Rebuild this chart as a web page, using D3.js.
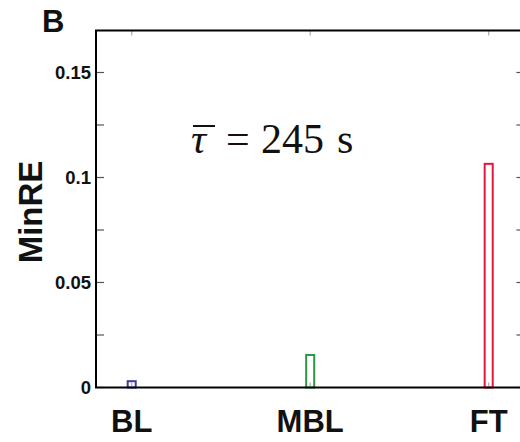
<!DOCTYPE html>
<html>
<head>
<meta charset="utf-8">
<script src="https://cdn.jsdelivr.net/npm/d3@7"></script>
<style>
  html, body { margin: 0; padding: 0; background: #fff; }
  svg { display: block; }
</style>
</head>
<body>
<svg id="chart" width="520" height="442"></svg>
<script>
const categories = ["BL", "MBL", "FT"];
const values = [0.003, 0.0155, 0.1065];
const colors = ["#3d3d9e", "#2e9446", "#e2183f"];
const yTickLabels = [0, 0.05, 0.1, 0.15];
const yMinorTicks = [0.025, 0.075, 0.125];

(function () {
const svg = d3.select("#chart");
const plotLeft = 96, plotTop = 30.5, plotBottom = 387.5;

const x = d3.scaleLinear().domain([0.8, 3.2]).range([plotLeft, plotLeft + 2.4 * 178.5]);
const y = d3.scaleLinear().domain([0, 0.17]).range([plotBottom, plotTop]);
const plotRight = x(3.2);

const barW = x(0.8 + 0.045) - x(0.8);

// bars
svg.append("g").selectAll("rect").data(values).join("rect")
  .attr("x", (d, i) => x(i + 1) - barW / 2)
  .attr("y", d => y(d))
  .attr("width", barW)
  .attr("height", d => y(0) - y(d))
  .attr("fill", "none")
  .attr("stroke", (d, i) => colors[i])
  .attr("stroke-width", 2);

// ticks (inward)
const tickLen = 8;
const allY = yTickLabels.concat(yMinorTicks);
const tg = svg.append("g").attr("stroke", "#555").attr("stroke-width", 1.2);
tg.append("g").selectAll("line").data(allY).join("line")
  .attr("x1", plotLeft).attr("x2", plotLeft + tickLen)
  .attr("y1", d => y(d)).attr("y2", d => y(d));
tg.append("g").selectAll("line").data(allY).join("line")
  .attr("x1", plotRight).attr("x2", plotRight - tickLen)
  .attr("y1", d => y(d)).attr("y2", d => y(d));
tg.append("g").selectAll("line").data(categories).join("line")
  .attr("x1", (d, i) => x(i + 1)).attr("x2", (d, i) => x(i + 1))
  .attr("y1", plotBottom).attr("y2", plotBottom - 5)
  .attr("stroke", "#aaa");
tg.append("g").selectAll("line").data(categories).join("line")
  .attr("x1", (d, i) => x(i + 1)).attr("x2", (d, i) => x(i + 1))
  .attr("y1", plotTop).attr("y2", plotTop + 5)
  .attr("stroke", "#aaa");

// box
svg.append("rect")
  .attr("x", plotLeft).attr("y", plotTop)
  .attr("width", plotRight - plotLeft).attr("height", plotBottom - plotTop)
  .attr("fill", "none").attr("stroke", "#000").attr("stroke-width", 2);

// y tick labels
svg.append("g").selectAll("text").data(yTickLabels).join("text")
  .attr("x", plotLeft - 5)
  .attr("y", d => y(d))
  .attr("dy", "0.36em")
  .attr("text-anchor", "end")
  .attr("font-family", "Liberation Sans, Arial, sans-serif")
  .attr("font-weight", "bold")
  .attr("font-size", 18.5)
  .attr("fill", "#111")
  .text(d => d === 0 ? "0" : String(d));

// category labels
svg.append("g").selectAll("text").data(categories).join("text")
  .attr("x", (d, i) => x(i + 1))
  .attr("y", 432)
  .attr("text-anchor", "middle")
  .attr("font-family", "Liberation Sans, Arial, sans-serif")
  .attr("font-weight", "bold")
  .attr("font-size", 31)
  .attr("fill", "#111")
  .text(d => d);

// y axis title
svg.append("text")
  .attr("transform", `translate(42, ${(plotTop + plotBottom) / 2 + 3}) rotate(-90)`)
  .attr("text-anchor", "middle")
  .attr("font-family", "Liberation Sans, Arial, sans-serif")
  .attr("font-weight", "bold")
  .attr("font-size", 33)
  .attr("fill", "#111")
  .text("MinRE");

// panel letter
svg.append("text")
  .attr("x", 42).attr("y", 32)
  .attr("font-family", "Liberation Sans, Arial, sans-serif")
  .attr("font-weight", "bold")
  .attr("font-size", 31)
  .attr("fill", "#111")
  .text("B");

// annotation
const ann = svg.append("text")
  .attr("y", 153)
  .attr("font-family", "Liberation Serif, Times New Roman, serif")
  .attr("font-size", 42)
  .attr("fill", "#111");
const tau = ann.append("tspan").attr("x", 191).attr("font-style", "italic").text("τ");
ann.append("tspan").attr("x", 226).text("=");
ann.append("tspan").attr("x", 261).text("245");
ann.append("tspan").attr("x", 337).text("s");
const tb = tau.node().getBBox();
svg.append("line")
  .attr("x1", 193).attr("x2", 215)
  .attr("y1", 126).attr("y2", 126)
  .attr("stroke", "#111").attr("stroke-width", 2);
})();
</script>
</body>
</html>
